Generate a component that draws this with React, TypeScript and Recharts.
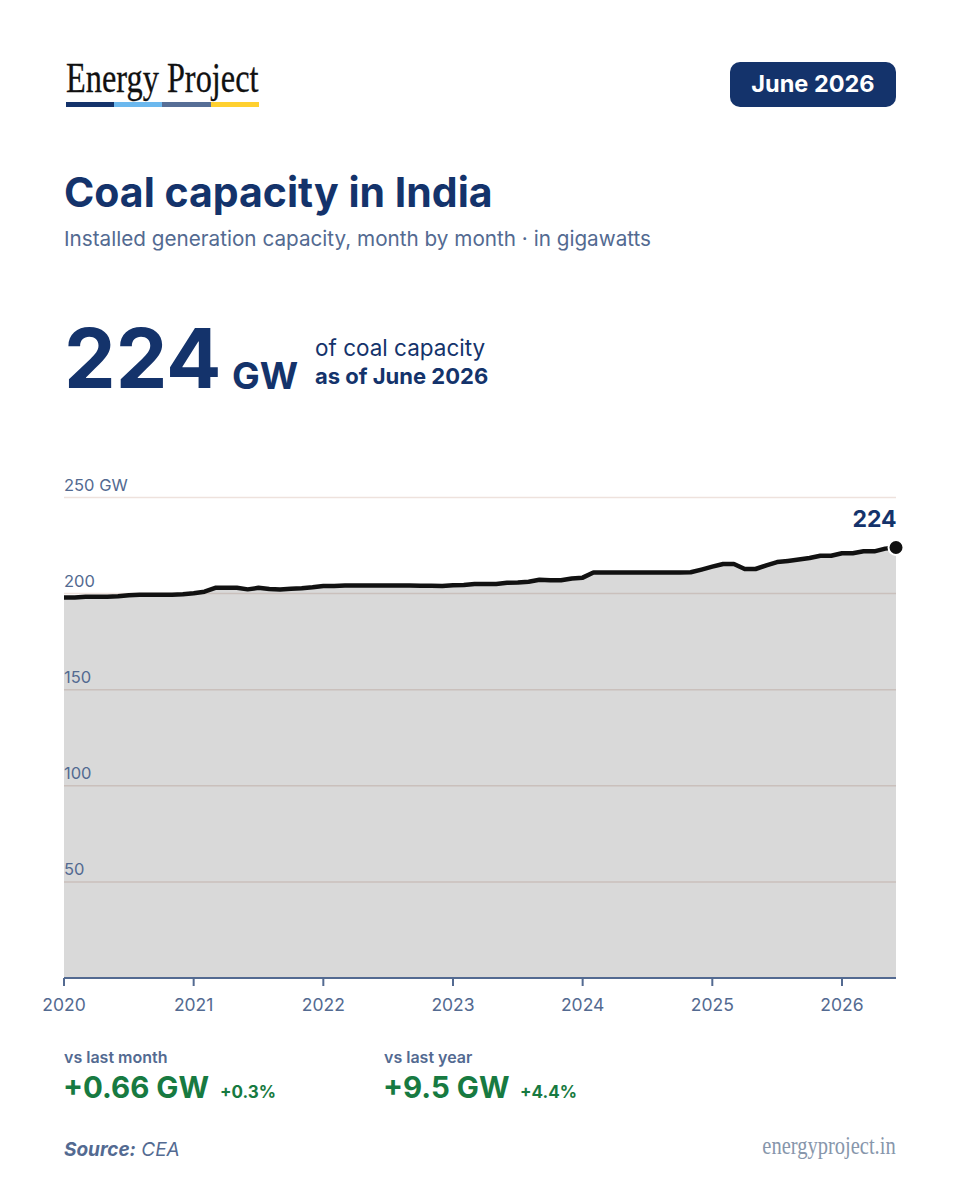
import { AreaChart, Area, XAxis, YAxis, CartesianGrid, ReferenceDot } from 'recharts'

const capacity = [
  198, 198, 198.3, 198.4, 198.4, 198.6, 199.2, 199.4, 199.4, 199.4, 199.4, 199.7,
  200.2, 201, 203, 203, 203, 202.2, 203, 202.4, 202.1, 202.5, 202.8, 203.3,
  204, 204, 204.2, 204.2, 204.2, 204.2, 204.2, 204.2, 204.2, 204.1, 204.1, 204,
  204.4, 204.5, 205, 205, 205, 205.6, 205.8, 206.2, 207.2, 207, 206.9, 207.9,
  208.3, 211, 211, 211, 211, 211, 211, 211, 211, 211, 211.1, 212.5,
  214, 215.4, 215.4, 212.8, 212.8, 214.7, 216.4, 217, 217.7, 218.5, 219.7, 219.7,
  221, 221, 222, 222, 223.4, 224,
]
const yearTicks = [0, 12, 24, 36, 48, 60, 72]
const yearLabels = ['2020', '2021', '2022', '2023', '2024', '2025', '2026']
const valueTicks = [50, 100, 150, 200, 250]

const chartData = capacity.map((gw, month) => ({ month, gw }))
const lastMonth = chartData[chartData.length - 1]

const NAVY = '#14336b'
const SLATE = '#536a91'
const GREEN = '#177a41'
const SANS = 'Inter, sans-serif'
const SERIF = '"Liberation Serif", serif'

function T({ x, y, right, size, weight = 400, color = NAVY, italic, font = SANS, spacing, children }: any) {
  return (
    <div
      style={{
        position: 'absolute',
        left: x,
        right,
        top: y,
        transform: 'translateY(-50%)',
        fontFamily: font,
        fontSize: size,
        fontWeight: weight,
        fontStyle: italic ? 'italic' : 'normal',
        letterSpacing: spacing,
        color,
        lineHeight: 1,
        whiteSpace: 'nowrap',
      }}
    >
      {children}
    </div>
  )
}

function ValueTick({ y, payload }: any) {
  return (
    <text x={64} y={y - 7} fill={SLATE} fontFamily={SANS} fontSize={16.5} textAnchor="start">
      {payload.value === 250 ? '250 GW' : payload.value}
    </text>
  )
}

function LogoBar({ x, w, color }: any) {
  return <div style={{ position: 'absolute', left: x, top: 102, width: w, height: 5, background: color }} />
}

export default function App() {
  return (
    <div style={{ position: 'absolute', left: 0, top: 0, width: 960, height: 1200, background: '#fff', overflow: 'hidden' }}>
      {/* logo */}
      <div
        style={{
          position: 'absolute', left: 66, top: 56, fontFamily: SERIF, fontSize: 42, lineHeight: '44px',
          color: '#111', whiteSpace: 'nowrap', transform: 'scaleX(0.77)', transformOrigin: 'left top',
          WebkitTextStroke: '0.3px #111',
        }}
      >
        Energy Project
      </div>
      <LogoBar x={66} w={48} color={NAVY} />
      <LogoBar x={114} w={48} color="#6bb8ee" />
      <LogoBar x={162} w={49} color="#566e96" />
      <LogoBar x={211} w={48} color="#ffd02f" />

      <div
        style={{
          position: 'absolute', left: 730, top: 62, width: 166, height: 45, borderRadius: 10, background: NAVY,
          color: '#fff', fontFamily: SANS, fontWeight: 700, fontSize: 23.5, lineHeight: '43px', textAlign: 'center',
        }}
      >
        June 2026
      </div>

      <T x={64} y={192} size={41} weight={700}>Coal capacity in India</T>
      <T x={64} y={239} size={20.7} color={SLATE}>Installed generation capacity, month by month · in gigawatts</T>

      <T x={64} y={359} size={82} weight={700}>224</T>
      <T x={232} y={375} size={37} weight={700}>GW</T>
      <T x={315} y={348} size={22.5}>of coal capacity</T>
      <T x={315} y={376} size={22} weight={700}>as of June 2026</T>

      <div style={{ position: 'absolute', left: 0, top: 460 }}>
        <AreaChart width={960} height={560} data={chartData} margin={{ top: 37.5, right: 64, bottom: 12, left: 63 }}>
          <CartesianGrid horizontal vertical={false} stroke="#eee2dd" strokeWidth={1.5} />
          <XAxis
            dataKey="month"
            type="number"
            domain={[0, 77]}
            ticks={yearTicks}
            tickFormatter={(v) => yearLabels[yearTicks.indexOf(v)]}
            height={30}
            interval={0}
            stroke={SLATE}
            strokeWidth={2}
            tickSize={8}
            tick={{ fill: SLATE, fontFamily: SANS, fontSize: 17.5 }}
            tickMargin={13}
          />
          <YAxis
            width={1}
            domain={[0, 250]}
            ticks={valueTicks}
            axisLine={false}
            tickLine={false}
            tick={ValueTick}
          />
          <Area
            type="linear"
            dataKey="gw"
            stroke="#111"
            strokeWidth={4.5}
            strokeLinejoin="round"
            fill="#000"
            fillOpacity={0.15}
            dot={false}
            activeDot={false}
            isAnimationActive={false}
          />
          <ReferenceDot
            x={lastMonth.month}
            y={lastMonth.gw}
            r={7.5}
            fill="#111"
            stroke="#fff"
            strokeWidth={2}
            ifOverflow="visible"
            label={{ value: '224', position: 'top', dx: -21.5, dy: -8, fill: NAVY, fontFamily: SANS, fontSize: 23, fontWeight: 700 }}
          />
        </AreaChart>
      </div>

      <T x={64} y={1057} size={16} weight={600} color={SLATE}>vs last month</T>
      <T x={63} y={1088} size={29.5} weight={700} color={GREEN}>+0.66 GW</T>
      <T x={220} y={1092} size={17} weight={700} color={GREEN}>+0.3%</T>

      <T x={384} y={1057} size={16} weight={600} color={SLATE}>vs last year</T>
      <T x={383} y={1088} size={29.5} weight={700} color={GREEN}>+9.5 GW</T>
      <T x={520} y={1092} size={17} weight={700} color={GREEN}>+4.4%</T>

      <T x={64} y={1149} size={19} italic color={SLATE}>
        <b>Source:</b> CEA
      </T>
      <div
        style={{
          position: 'absolute', right: 64, top: 1132, fontFamily: SERIF, fontSize: 25, lineHeight: '28px',
          color: '#8796ab', whiteSpace: 'nowrap', transform: 'scaleX(0.82)', transformOrigin: 'right top',
        }}
      >
        energyproject.in
      </div>
    </div>
  )
}
